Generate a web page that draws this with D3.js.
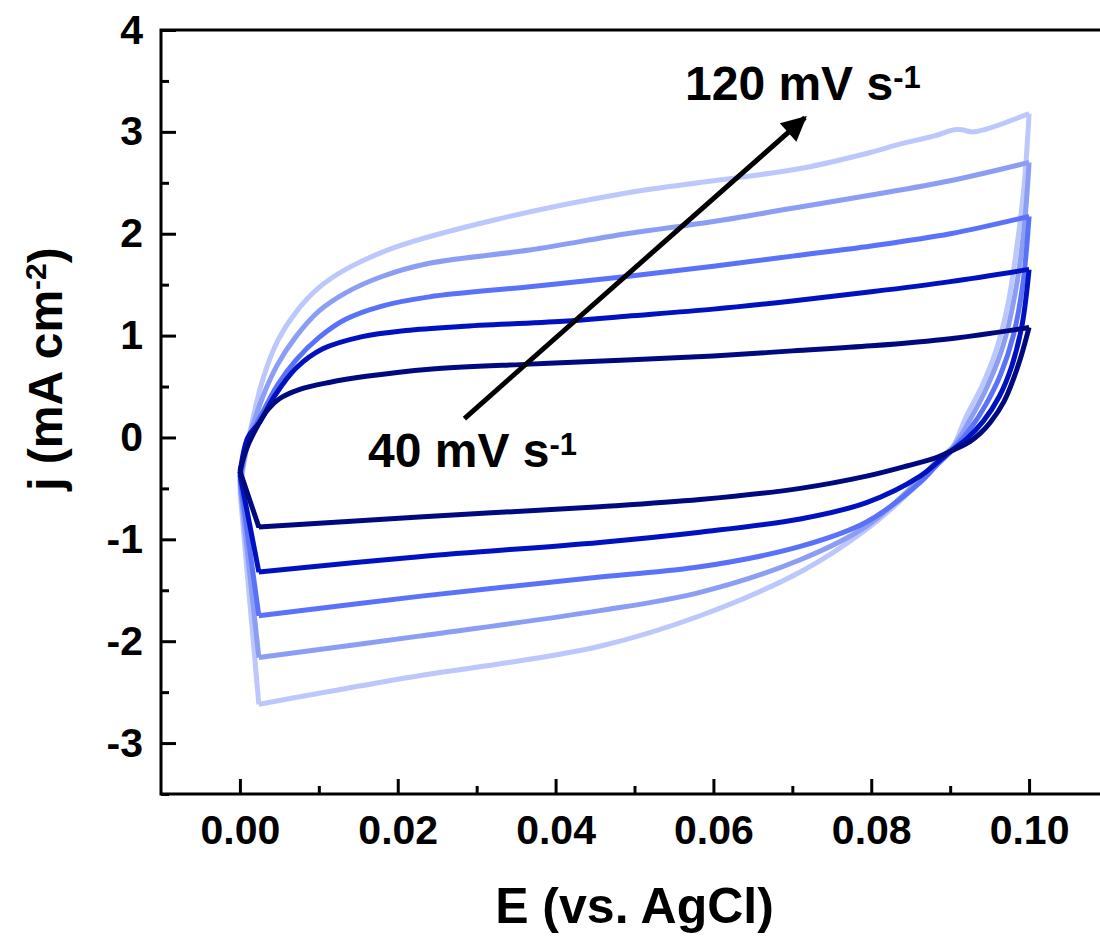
<!DOCTYPE html>
<html>
<head>
<meta charset="utf-8">
<script src="https://cdn.jsdelivr.net/npm/d3@7"></script>
<style>
  body { margin: 0; background: #fff; }
  text { font-family: "Liberation Sans", Arial, sans-serif; font-weight: bold; fill: #000; }
</style>
</head>
<body>
<svg id="chart" width="1100" height="938"></svg>
<script>
// CV loops, [E (V), j (mA cm-2)]
const scanRates = ["40", "60", "80", "100", "120"];
const colors = ["#000a7e", "#0012c0", "#5a72f8", "#8c9ef4", "#bcc7fb"];

const cv40 = [[0,-0.33],[0.0008,-0.12],[0.002,0.08],[0.0035,0.27],[0.005,0.38],[0.0075,0.47],[0.0113,0.54],[0.016,0.6],[0.024,0.67],[0.0367,0.72],[0.049,0.76],[0.06,0.8],[0.07,0.85],[0.08,0.9],[0.09,0.97],[0.1,1.08],
  [0.099,0.8],[0.098,0.57],[0.0968,0.35],[0.0951,0.15],[0.0938,0.04],[0.0925,-0.04],[0.0905,-0.12],[0.0885,-0.19],[0.0845,-0.28],[0.0794,-0.38],[0.071,-0.5],[0.0583,-0.61],[0.0456,-0.68],[0.0227,-0.78],[0.0024,-0.88],[0,-0.33]];
const cv60 = [[0,-0.36],[0.001,0.0],[0.0025,0.15],[0.0045,0.42],[0.0071,0.68],[0.0105,0.87],[0.0155,0.99],[0.021,1.05],[0.028,1.09],[0.041,1.14],[0.049,1.19],[0.06,1.26],[0.07,1.34],[0.08,1.43],[0.09,1.53],[0.1,1.65],
  [0.0991,1.1],[0.0978,0.7],[0.0962,0.4],[0.0942,0.16],[0.092,-0.02],[0.0898,-0.15],[0.0862,-0.38],[0.0794,-0.64],[0.071,-0.8],[0.0583,-0.93],[0.0456,-1.03],[0.0227,-1.17],[0.0024,-1.32],[0,-0.36]];
const cv80 = [[0,-0.4],[0.001,-0.05],[0.0029,0.25],[0.0048,0.52],[0.0071,0.76],[0.01,0.98],[0.0134,1.16],[0.018,1.29],[0.024,1.38],[0.0367,1.48],[0.049,1.58],[0.06,1.68],[0.07,1.78],[0.08,1.88],[0.09,2.0],[0.1,2.17],
  [0.0992,1.5],[0.098,1.0],[0.0964,0.62],[0.0945,0.32],[0.0925,0.08],[0.0903,-0.12],[0.0882,-0.28],[0.0862,-0.44],[0.0794,-0.83],[0.071,-1.07],[0.0583,-1.27],[0.0456,-1.37],[0.0227,-1.56],[0.0024,-1.75],[0,-0.4]];
const cv100 = [[0,-0.45],[0.001,-0.05],[0.0029,0.4],[0.0048,0.72],[0.0071,0.99],[0.01,1.24],[0.0134,1.42],[0.018,1.58],[0.024,1.71],[0.0367,1.84],[0.049,2.0],[0.06,2.12],[0.07,2.25],[0.08,2.38],[0.09,2.52],[0.1,2.7],
  [0.0993,2.0],[0.0982,1.4],[0.0967,0.9],[0.0947,0.5],[0.0927,0.2],[0.0905,-0.08],[0.0882,-0.24],[0.086,-0.42],[0.0794,-0.87],[0.071,-1.2],[0.0583,-1.52],[0.0456,-1.7],[0.0227,-1.95],[0.0024,-2.16],[0,-0.45]];
const cv120 = [[0,-0.52],[0.001,-0.05],[0.0029,0.57],[0.0048,0.95],[0.0071,1.23],[0.01,1.47],[0.0134,1.65],[0.0198,1.87],[0.0325,2.14],[0.049,2.4],[0.06,2.52],[0.071,2.64],[0.08,2.8],[0.0836,2.88],[0.088,2.96],[0.0905,3.02],[0.0915,3.02],[0.093,3.0],[0.1,3.18],
  [0.0994,2.5],[0.0985,1.9],[0.0973,1.3],[0.0958,0.85],[0.094,0.5],[0.092,0.2],[0.0903,-0.1],[0.0882,-0.26],[0.0848,-0.54],[0.0794,-0.9],[0.071,-1.32],[0.0583,-1.75],[0.0456,-2.05],[0.034,-2.21],[0.0227,-2.34],[0.0024,-2.62],[0,-0.52]];
const loops = [cv40, cv60, cv80, cv100, cv120];

const xTicks = [0, 0.02, 0.04, 0.06, 0.08, 0.1];
const xMinor = [0.01, 0.03, 0.05, 0.07, 0.09];
const yTicks = [-3, -2, -1, 0, 1, 2, 3, 4];
const yMinor = [-3.5, -2.5, -1.5, -0.5, 0.5, 1.5, 2.5, 3.5];

const svg = d3.select("#chart");

const x = d3.scaleLinear().domain([-0.01, 0.11]).range([161, 1108]);
const y = d3.scaleLinear().domain([-3.5, 4]).range([794, 30]);

// curves, lightest first so dark ones sit on top
const line = d3.line().x(d => x(d[0])).y(d => y(d[1])).curve(d3.curveCatmullRom.alpha(0.5));
function loopPath(pts) {
  // split at the turning corners so the spline doesn't round them off
  const iTop = pts.findIndex(p => p[0] === 0.1);
  const iBot = pts.length - 2;
  return line(pts.slice(0, iTop + 1)) + line(pts.slice(iTop, iBot + 1)) + line(pts.slice(iBot));
}
for (let i = loops.length - 1; i >= 0; i--) {
  svg.append("path")
    .attr("d", loopPath(loops[i]))
    .attr("fill", "none")
    .attr("stroke", colors[i])
    .attr("stroke-width", 5)
    .attr("stroke-linejoin", "round");
}

// axes
svg.append("g")
  .attr("transform", "translate(0,794)")
  .call(d3.axisBottom(x).tickValues(xTicks).tickSize(-15).tickPadding(21).tickFormat(d3.format(".2f")));
svg.append("g")
  .attr("transform", "translate(0,794)")
  .call(d3.axisBottom(x).tickValues(xMinor).tickSize(-8).tickFormat(""));
svg.append("g")
  .attr("transform", "translate(161,0)")
  .call(d3.axisLeft(y).tickValues(yTicks).tickSize(-15).tickPadding(18).tickFormat(d => String(d)));
svg.append("g")
  .attr("transform", "translate(161,0)")
  .call(d3.axisLeft(y).tickValues(yMinor).tickSize(-8).tickFormat(""));

svg.selectAll(".domain").remove();
svg.selectAll(".tick line").attr("stroke", "#000").attr("stroke-width", 3);
svg.selectAll(".tick text")
  .style("font-family", "'Liberation Sans', Arial, sans-serif")
  .style("font-weight", "bold")
  .style("font-size", "41px")
  .attr("fill", "#000");

// frame
svg.append("rect")
  .attr("x", x(-0.01)).attr("y", y(4))
  .attr("width", x(0.11) - x(-0.01)).attr("height", y(-3.5) - y(4))
  .attr("fill", "none").attr("stroke", "#000").attr("stroke-width", 3);

// axis titles
svg.append("text")
  .attr("x", (x(-0.01) + x(0.11)) / 2).attr("y", 923)
  .attr("text-anchor", "middle")
  .style("font-size", "50px")
  .text("E (vs. AgCl)");

const yt = svg.append("text")
  .attr("transform", "translate(62,369) rotate(-90)")
  .attr("text-anchor", "middle")
  .style("font-size", "48px");
yt.append("tspan").text("j (mA cm");
yt.append("tspan").attr("dy", -16).style("font-size", "30px").text("-2");
yt.append("tspan").attr("dy", 16).text(")");

// arrow annotation
svg.append("defs").append("marker")
  .attr("id", "head")
  .attr("viewBox", "0 0 10 10")
  .attr("refX", 9).attr("refY", 5)
  .attr("markerWidth", 30).attr("markerHeight", 25)
  .attr("markerUnits", "userSpaceOnUse")
  .attr("orient", "auto")
  .append("path").attr("d", "M0,0 L10,5 L0,10 z").attr("fill", "#000");

svg.append("line")
  .attr("x1", x(0.02845)).attr("y1", y(0.186))
  .attr("x2", x(0.0716)).attr("y2", y(3.14))
  .attr("stroke", "#000").attr("stroke-width", 5)
  .attr("marker-end", "url(#head)");

function rateLabel(px, py, rate) {
  const t = svg.append("text").attr("x", px).attr("y", py).style("font-size", "48px");
  t.append("tspan").text(rate + " mV s");
  t.append("tspan").attr("dy", -12).style("font-size", "31px").text("-1");
}
rateLabel(685, 100, scanRates[4]);
rateLabel(368, 467, scanRates[0]);
</script>
</body>
</html>
